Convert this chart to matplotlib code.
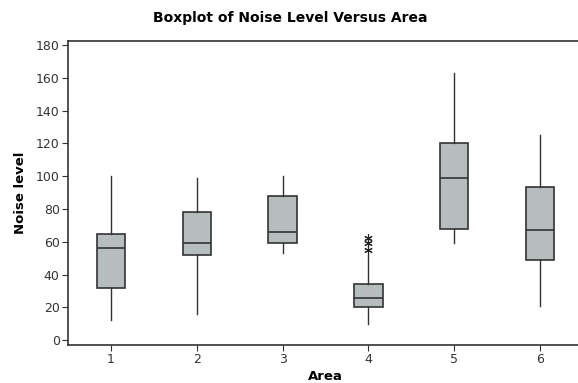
import numpy as np
import matplotlib.pyplot as plt

areas = [1, 2, 3, 4, 5, 6]
whisker_low = [12, 16, 53, 10, 59, 21]
q1 = [32, 52, 59, 20, 68, 49]
median = [56, 59, 66, 25.5, 99, 67]
q3 = [65, 78, 88, 34.5, 120, 93.5]
whisker_high = [100, 99, 100, 52, 163, 125]
outliers = [[], [], [], [55, 59, 62], [], []]

# build the stats dicts for bxp
stats = []
for i in range(len(areas)):
    stats.append({'whislo': whisker_low[i], 'q1': q1[i], 'med': median[i],
                  'q3': q3[i], 'whishi': whisker_high[i], 'fliers': outliers[i],
                  'label': str(areas[i])})

fig = plt.figure(figsize=(5.78, 3.83), dpi=100)
ax = fig.add_axes([68/578, 1-345/383, 515/578, 304/383])

ax.bxp(stats, positions=areas, widths=0.33, patch_artist=True, showcaps=False,
       boxprops=dict(facecolor='#b5bdbf', edgecolor='#333333', linewidth=1.2),
       medianprops=dict(color='#333333', linewidth=1.2),
       whiskerprops=dict(color='#333333', linewidth=1.0),
       flierprops=dict(marker=(6, 2, 0), markersize=6, markeredgecolor='#222222',
                       markeredgewidth=0.8, linestyle='none'))

ax.set_xlim(0.5, 6.5)
ax.set_ylim(-3, 182.5)
ax.set_yticks(np.arange(0, 181, 20))
ax.set_xticks(areas)
ax.set_xticklabels([str(a) for a in areas])
ax.tick_params(direction='out', length=4, labelsize=9, colors='#333333', pad=2)
for s in ['left', 'bottom', 'top']:
    ax.spines[s].set_linewidth(1.2)
    ax.spines[s].set_color('#333333')

ax.set_ylabel('Noise level', fontsize=9.5, fontweight='bold', labelpad=6)
fig.text(325/578, 1-376/383, 'Area', ha='center', va='center',
         fontsize=9.5, fontweight='bold')
fig.text(290/578, 1-18/383, 'Boxplot of Noise Level Versus Area', ha='center', va='center',
         fontsize=10, fontweight='bold')

fig.savefig('out.png', dpi=100)
